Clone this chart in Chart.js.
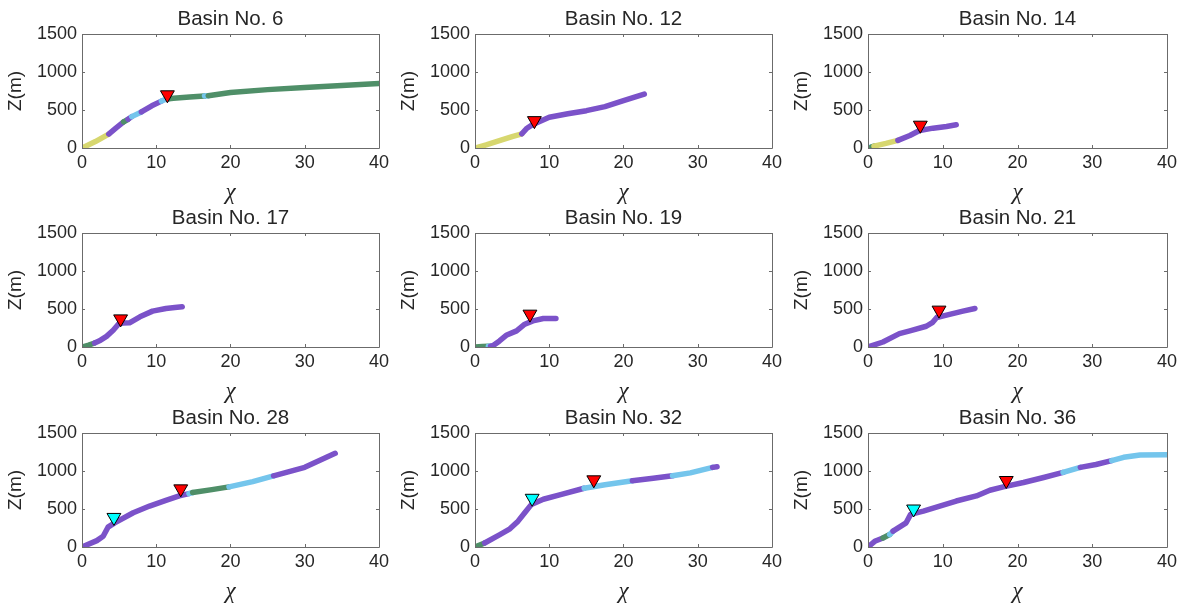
<!DOCTYPE html>
<html><head><meta charset="utf-8">
<script src="https://cdn.jsdelivr.net/npm/chart.js@4"></script>
<style>
body{margin:0;background:#fff;width:1187px;height:605px;position:relative;overflow:hidden}
canvas{position:absolute}
</style></head><body>
<script>
// ---- data ----
const basinNames = ['Basin No. 6','Basin No. 12','Basin No. 14','Basin No. 17','Basin No. 19','Basin No. 21','Basin No. 28','Basin No. 32','Basin No. 36'];
const xTicks = [0,10,20,30,40];
const yTicks = [0,500,1000,1500];

const chi6  = [0,1.8,3.6,4.6,5.6,6.2,6.7,8.0,9.4,10.7,11.2,11.7,12.3,14.5,16.5,17.0,20,25,30,35,40];
const z6    = [0,85,183,265,343,378,413,474,555,617,639,648,655,670,683,688,731,768,796,822,848];
const seg6  = ['Y','Y','P','P','G','P','C','P','P','C','C','G','G','G','C','G','G','G','G','G'];
const mk6   = [[11.5,700,'R']];

const chi12 = [0,1.5,3.4,5.0,6.3,7.0,7.8,10,12.5,15,17.5,20,21.5,22.8];
const z12   = [0,40,100,150,187,260,310,404,450,491,545,622,670,709];
const seg12 = ['Y','Y','Y','Y','P','P','P','P','P','P','P','P','P'];
const mk12  = [[8.0,360,'R']];

const chi14 = [0,0.45,0.8,2.4,4.0,5.6,6.9,8.7,10.5,11.8];
const z14   = [0,13,25,60,100,165,230,261,283,305];
const seg14 = ['C','G','Y','Y','P','P','P','P','P'];
const mk14  = [[7.0,300,'R']];

const chi17 = [0,0.9,1.7,2.5,3.3,4.2,4.9,5.5,6.4,7.8,9.5,11.3,12.5,13.5];
const z17   = [0,25,53,90,140,220,300,315,318,397,472,507,520,529];
const seg17 = ['G','G','P','P','P','P','P','P','P','P','P','P','P'];
const mk17  = [[5.2,370,'R']];

const chi19 = [0,1.0,1.8,2.1,2.5,3.3,4.2,5.6,6.7,7.8,9.2,10.9];
const z19   = [0,5,9,12,22,80,154,212,300,344,375,375];
const seg19 = ['G','G','C','P','P','P','P','P','P','P','P'];
const mk19  = [[7.4,432,'R']];

const chi21 = [0,2.0,4.2,5.6,7.8,8.6,9.2,10.5,12.7,14.3];
const z21   = [0,66,176,212,273,320,388,419,472,507];
const seg21 = ['P','P','P','P','P','P','P','P','P'];
const mk21  = [[9.5,485,'R']];

const chi28 = [0,2.0,2.85,3.5,4.4,6.9,9.1,11.3,13.1,14.4,14.9,17.5,19.8,23,25.8,30,34.1];
const z28   = [0,84,141,261,318,451,539,614,672,703,716,755,791,860,937,1048,1233];
const seg28 = ['P','P','P','P','P','P','P','P','P','C','G','G','C','C','P','P'];
const mk28  = [[13.3,765,'R'],[4.3,389,'K']];

const chi32 = [0,1.3,3.35,4.7,5.8,6.7,7.6,9.2,11.4,14.7,17.5,21.2,24,26.6,29,32.0,32.6];
const z32   = [0,53,164,239,340,451,561,628,685,773,820,871,905,937,975,1048,1057];
const seg32 = ['G','P','P','P','P','P','P','P','P','C','C','P','P','C','C','P'];
const mk32  = [[16.0,884,'R'],[7.7,641,'K']];

const chi36 = [0,0.9,2.0,2.9,3.35,5.1,5.7,7.4,9.6,11.8,14.5,16.3,18.1,20.8,23.5,26.1,28.4,30.5,32.6,34.2,36.4,40];
const z36   = [0,75,119,164,208,318,429,473,539,605,672,747,791,849,915,981,1048,1085,1136,1180,1211,1215];
const seg36 = ['P','P','G','C','P','P','P','P','P','P','P','P','P','P','P','C','P','P','C','C','C'];
const mk36  = [[18.5,875,'R'],[6.1,500,'K']];

const chiAll = [chi6,chi12,chi14,chi17,chi19,chi21,chi28,chi32,chi36];
const zAll   = [z6,z12,z14,z17,z19,z21,z28,z32,z36];
const segAll = [seg6,seg12,seg14,seg17,seg19,seg21,seg28,seg32,seg36];
const mkAll  = [mk6,mk12,mk14,mk17,mk19,mk21,mk28,mk32,mk36];

// ---- styles ----
const SEGCOL = {P:'#7b52c9', Y:'#d7d76f', G:'#4f8f68', C:'#74c5ec'};
const MKCOL = {R:'#ff0000', K:'#00ffff'};
const AXCOL = '#6b6b6b';
const TXT = '#262626';
const SANS = 'Liberation Sans, Arial, sans-serif';

const boxPlugin = {
  id:'matlabBox',
  afterDatasetsDraw(chart){
    const {ctx, chartArea:a, scales:{x, y}} = chart;
    ctx.save();
    ctx.strokeStyle = AXCOL; ctx.lineWidth = 1;
    ctx.beginPath();
    ctx.rect(Math.round(a.left)+0.5, Math.round(a.top)+0.5, Math.round(a.right-a.left), Math.round(a.bottom-a.top));
    const L = 3;
    x.ticks.forEach(t => {
      const px = Math.round(x.getPixelForValue(t.value))+0.5;
      ctx.moveTo(px, a.bottom); ctx.lineTo(px, a.bottom - L);
      ctx.moveTo(px, a.top); ctx.lineTo(px, a.top + L);
    });
    y.ticks.forEach(t => {
      const py = Math.round(y.getPixelForValue(t.value))+0.5;
      ctx.moveTo(a.left, py); ctx.lineTo(a.left + L, py);
      ctx.moveTo(a.right, py); ctx.lineTo(a.right - L, py);
    });
    ctx.stroke();
    ctx.restore();
  }
};

const colLeft = [0,393,786], colW = [393,393,401], rowTop = [0,199,399];
const H = 205, PLOT_W = 299, YW = 82, XH = 57;

for (let i = 0; i < 9; i++) {
  const r = Math.floor(i/3), c = i % 3;
  const cv = document.createElement('canvas');
  cv.width = colW[c]; cv.height = H;
  cv.style.left = colLeft[c] + 'px'; cv.style.top = rowTop[r] + 'px';
  document.body.appendChild(cv);
  const chi = chiAll[i], z = zAll[i], seg = segAll[i], mk = mkAll[i];
  new Chart(cv, {
    type: 'scatter',
    data: {
      datasets: [
        {
          data: mk.map(m => ({x:m[0], y:m[1]})),
          pointStyle: 'triangle', rotation: 180,
          pointRadius: 8, pointHoverRadius: 8,
          backgroundColor: mk.map(m => MKCOL[m[2]]),
          borderColor: '#000', borderWidth: 1, showLine: false
        },
        {
          data: chi.map((v,k) => ({x:v, y:z[k]})),
          showLine: true, pointRadius: 0, pointHoverRadius: 0,
          borderWidth: 5.5, borderCapStyle: 'round', borderJoinStyle: 'round',
          borderColor: SEGCOL.P,
          segment: { borderColor: ctx => SEGCOL[seg[ctx.p0DataIndex]] }
        }
      ]
    },
    options: {
      responsive: false, animation: false, events: [],
      layout: { padding: { left: 0, top: 0, bottom: 0, right: colW[c] - YW - PLOT_W } },
      plugins: {
        legend: { display: false }, tooltip: { enabled: false },
        title: {
          display: true, fullSize: false, text: basinNames[i], color: TXT,
          font: { family: SANS, size: 20.5, weight: 'normal', lineHeight: 1.2 },
          padding: { top: 7, bottom: 2.4 }
        }
      },
      scales: {
        x: {
          type: 'linear', min: 0, max: 40,
          afterBuildTicks: s => { s.ticks = xTicks.map(v => ({value: v})); },
          afterFit: s => { s.height = XH; },
          grid: { display: false, drawTicks: false },
          border: { display: false },
          ticks: { color: TXT, padding: 4, maxRotation: 0, callback: v => String(v), font: { family: SANS, size: 18 } },
          title: { display: true, text: 'χ', color: TXT, padding: { top: 0, bottom: 0 },
                   font: { family: 'Liberation Serif, DejaVu Serif, serif', style: 'italic', size: 23, lineHeight: 1.05 } }
        },
        y: {
          type: 'linear', min: 0, max: 1500,
          afterBuildTicks: s => { s.ticks = yTicks.map(v => ({value: v})); },
          afterFit: s => { s.width = YW; },
          grid: { display: false, drawTicks: false },
          border: { display: false },
          ticks: { color: TXT, padding: 5, callback: v => String(v), font: { family: SANS, size: 18 } },
          title: { display: true, text: 'Z(m)', color: TXT, padding: { top: 4, bottom: 0 },
                   font: { family: SANS, size: 19, lineHeight: 1.2 } }
        }
      }
    },
    plugins: [boxPlugin]
  });
}
</script>
</body></html>
